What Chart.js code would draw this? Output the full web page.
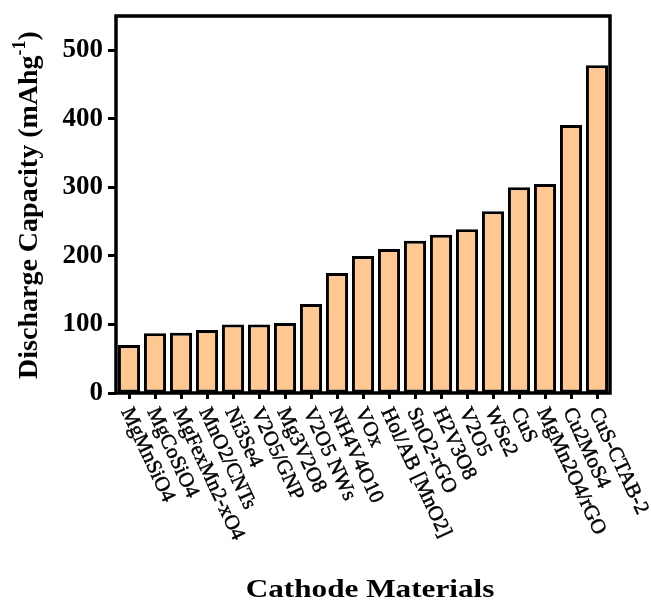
<!DOCTYPE html>
<html>
<head>
<meta charset="utf-8">
<script src="https://cdn.jsdelivr.net/npm/chart.js@4.4.1/dist/chart.umd.min.js"></script>
<style>
  html, body { margin: 0; padding: 0; background: #ffffff; }
  #wrap { width: 651px; height: 602px; position: relative; }
</style>
</head>
<body>
<div id="wrap"><canvas id="c" width="651" height="602"></canvas></div>
<script>
// Cathode materials and their discharge capacities (mAh g^-1)
const categories = [
  'MgMnSiO4', 'MgCoSiO4', 'MgFexMn2-xO4', 'MnO2/CNTs', 'Ni3Se4', 'V2O5/GNP',
  'Mg3V2O8', 'V2O5 NWs', 'NH4V4O10', 'VOx', 'Hol/AB [MnO2]', 'SnO2-rGO',
  'H2V3O8', 'V2O5', 'WSe2', 'CuS', 'MgMn2O4/rGO', 'Cu2MoS4', 'CuS-CTAB-2'
];
const capacity = [70, 87, 88, 92, 100, 100, 102, 130, 175, 200, 210, 222, 231, 239, 265, 300, 305, 391, 478];
const yTickValues = [0, 100, 200, 300, 400, 500];
const yTitleMain = 'Discharge Capacity (mAhg';
const yTitleSup = '-1';
const yTitleEnd = ')';
const xTitle = 'Cathode Materials';

const SERIF = "'Liberation Serif', 'Times New Roman', serif";

// Frame, rotated category labels and axis titles
const decorations = {
  id: 'decorations',
  afterDraw(chart) {
    const ctx = chart.ctx;
    const a = chart.chartArea;
    const xs = chart.scales.x;

    ctx.save();
    ctx.strokeStyle = '#000';
    ctx.lineWidth = 3.5;
    ctx.strokeRect(a.left, a.top, a.right - a.left, a.bottom - a.top);
    ctx.restore();

    // category labels, running down to the right
    ctx.save();
    ctx.fillStyle = '#000';
    ctx.strokeStyle = '#000';
    ctx.lineWidth = 0.5;
    ctx.font = '21px ' + SERIF;
    ctx.textAlign = 'left';
    ctx.textBaseline = 'middle';
    categories.forEach((name, i) => {
      const px = xs.getPixelForValue(i);
      ctx.save();
      ctx.translate(px - 3, a.bottom + 16);
      ctx.rotate(65 * Math.PI / 180);
      ctx.fillText(name, 0, 0);
      ctx.strokeText(name, 0, 0);
      ctx.restore();
    });
    ctx.restore();

    // x axis title
    ctx.save();
    ctx.fillStyle = '#000';
    ctx.font = 'bold 26px ' + SERIF;
    ctx.textAlign = 'center';
    ctx.textBaseline = 'middle';
    ctx.translate(370, 590);
    ctx.scale(1.2, 1);
    ctx.fillText(xTitle, 0, 0);
    ctx.restore();

    // y axis title with superscript
    ctx.save();
    ctx.fillStyle = '#000';
    const mainFont = 'bold 28px ' + SERIF;
    const supFont = 'bold 18px ' + SERIF;
    ctx.font = mainFont;
    const w1 = ctx.measureText(yTitleMain).width;
    const w3 = ctx.measureText(yTitleEnd).width;
    ctx.font = supFont;
    const w2 = ctx.measureText(yTitleSup).width;
    const total = w1 + w2 + w3;
    ctx.translate(30, 205);
    ctx.rotate(-Math.PI / 2);
    ctx.textBaseline = 'middle';
    ctx.textAlign = 'left';
    let x0 = -total / 2;
    ctx.font = mainFont;
    ctx.fillText(yTitleMain, x0, 0);
    x0 += w1;
    ctx.font = supFont;
    ctx.fillText(yTitleSup, x0, -10);
    x0 += w2;
    ctx.font = mainFont;
    ctx.fillText(yTitleEnd, x0, 0);
    ctx.restore();
  }
};

new Chart(document.getElementById('c'), {
  type: 'bar',
  data: {
    labels: categories,
    datasets: [{
      data: capacity,
      backgroundColor: '#FFC893',
      borderColor: '#000000',
      borderWidth: 3,
      borderSkipped: false,
      barPercentage: 0.85,
      categoryPercentage: 1.0
    }]
  },
  options: {
    responsive: false,
    animation: false,
    events: [],
    layout: { padding: { left: 0, right: 41, top: 16, bottom: 0 } },
    plugins: {
      legend: { display: false },
      tooltip: { enabled: false },
      title: { display: false }
    },
    scales: {
      x: {
        type: 'category',
        offset: true,
        border: { display: false },
        grid: {
          offset: false,
          drawOnChartArea: false,
          drawTicks: true,
          tickLength: 6,
          tickWidth: 3,
          tickColor: '#000'
        },
        ticks: {
          autoSkip: false,
          maxRotation: 0,
          minRotation: 0,
          color: 'rgba(0,0,0,0)',
          font: { size: 10 }
        },
        afterFit(scale) {
          scale.height = 209;
          scale.paddingLeft = 0;
          scale.paddingRight = 0;
        }
      },
      y: {
        min: 0,
        max: 550,
        border: { display: false },
        afterBuildTicks(scale) {
          scale.ticks = yTickValues.map(v => ({ value: v }));
        },
        grid: {
          drawOnChartArea: false,
          drawTicks: true,
          tickLength: 8,
          tickWidth: 3,
          tickColor: '#000'
        },
        ticks: {
          color: '#000',
          padding: 5,
          font: { family: SERIF, size: 27, weight: 'bold' }
        },
        afterFit(scale) {
          scale.width = 116;
          scale.paddingTop = 0;
          scale.paddingBottom = 0;
        }
      }
    }
  },
  plugins: [decorations]
});
</script>
</body>
</html>
